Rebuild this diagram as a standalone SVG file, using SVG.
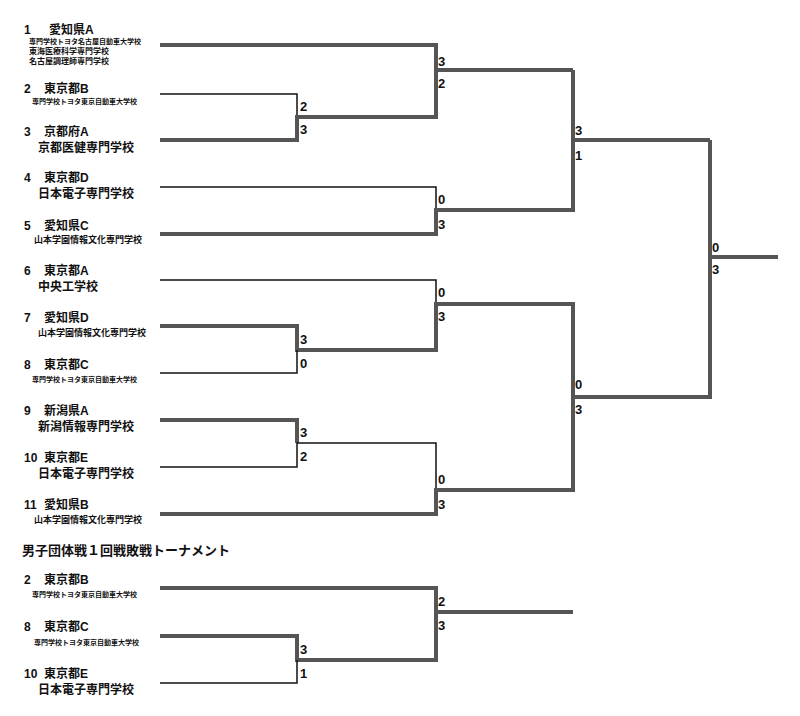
<svg xmlns="http://www.w3.org/2000/svg" width="800" height="716" viewBox="0 0 800 716">
<style>
text{font-family:"Liberation Sans","Noto Sans CJK JP",sans-serif;fill:#111}
.n{font-size:12px;font-weight:bold}
.s{font-size:7px;font-weight:bold}
.m{font-size:12px;font-weight:bold}
.sc{font-size:13px;font-weight:bold}
.k{stroke:#555;stroke-width:4;fill:none}
.t{stroke:#111;stroke-width:1.5;fill:none}
</style>
<rect width="800" height="716" fill="#fff"/>
<g id="connectors">
<path class="k" d="M160 45H436V70H573"/>
<path class="t" d="M160 94H297V117"/>
<path class="k" d="M160 140H297V117H436V70"/>
<path class="t" d="M160 187H436V210"/>
<path class="k" d="M160 234H436V210H573V70V140H710"/>
<path class="t" d="M160 280H436V304"/>
<path class="k" d="M160 326H297V350H436V304H573V397H710V140"/>
<path class="t" d="M160 373H297V350"/>
<path class="k" d="M160 420H297V443"/>
<path class="t" d="M160 467H297V443H436V490"/>
<path class="k" d="M160 514H436V490H573V397"/>
<path class="k" d="M710 257H778"/>
<path class="k" d="M160 588H436V612H573"/>
<path class="k" d="M160 636H297V660H436V612"/>
<path class="t" d="M160 683H297V660"/>
</g>
<g id="scores" class="sc">
<text x="438" y="66" class="sc">3</text><text x="438" y="88" class="sc">2</text>
<text x="300" y="111" class="sc">2</text><text x="300" y="134" class="sc">3</text>
<text x="438" y="204" class="sc">0</text><text x="438" y="229" class="sc">3</text>
<text x="575" y="135" class="sc">3</text><text x="575" y="160" class="sc">1</text>
<text x="438" y="297" class="sc">0</text><text x="438" y="321" class="sc">3</text>
<text x="300" y="344" class="sc">3</text><text x="300" y="368" class="sc">0</text>
<text x="300" y="437" class="sc">3</text><text x="300" y="461" class="sc">2</text>
<text x="438" y="484" class="sc">0</text><text x="438" y="509" class="sc">3</text>
<text x="575" y="389" class="sc">0</text><text x="575" y="414" class="sc">3</text>
<text x="712" y="252" class="sc">0</text><text x="712" y="274" class="sc">3</text>
<text x="438" y="606" class="sc">2</text><text x="438" y="630" class="sc">3</text>
<text x="300" y="654" class="sc">3</text><text x="300" y="678" class="sc">1</text>
</g>
<g id="e1"><text x="24" y="34" class="n">1</text><text x="49" y="34" class="n">愛知県A</text><text x="29" y="44" class="s">専門学校トヨタ名古屋自動車大学校</text><text x="29" y="54" class="s" style="font-size:8px">東海医療科学専門学校</text><text x="29" y="64" class="s" style="font-size:8px">名古屋調理師専門学校</text></g>
<g id="e2"><text x="24" y="93" class="n">2</text><text x="44" y="93" class="n">東京都B</text><text x="32" y="104" class="s">専門学校トヨタ東京自動車大学校</text></g>
<g id="e3"><text x="24" y="136" class="n">3</text><text x="44" y="136" class="n">京都府A</text><text x="38" y="152" class="m">京都医健専門学校</text></g>
<g id="e4"><text x="24" y="182" class="n">4</text><text x="44" y="182" class="n">東京都D</text><text x="38" y="198" class="m">日本電子専門学校</text></g>
<g id="e5"><text x="24" y="230" class="n">5</text><text x="44" y="230" class="n">愛知県C</text><text x="34" y="243" class="s" style="font-size:9px">山本学園情報文化専門学校</text></g>
<g id="e6"><text x="24" y="275" class="n">6</text><text x="44" y="275" class="n">東京都A</text><text x="38" y="291" class="m">中央工学校</text></g>
<g id="e7"><text x="24" y="322" class="n">7</text><text x="44" y="322" class="n">愛知県D</text><text x="38" y="336" class="s" style="font-size:9px">山本学園情報文化専門学校</text></g>
<g id="e8"><text x="24" y="369" class="n">8</text><text x="44" y="369" class="n">東京都C</text><text x="32" y="382" class="s">専門学校トヨタ東京自動車大学校</text></g>
<g id="e9"><text x="24" y="415" class="n">9</text><text x="44" y="415" class="n">新潟県A</text><text x="38" y="431" class="m">新潟情報専門学校</text></g>
<g id="e10"><text x="24" y="462" class="n">10</text><text x="44" y="462" class="n">東京都E</text><text x="38" y="478" class="m">日本電子専門学校</text></g>
<g id="e11"><text x="24" y="509" class="n">11</text><text x="44" y="509" class="n">愛知県B</text><text x="34" y="523" class="s" style="font-size:9px">山本学園情報文化専門学校</text></g>
<text x="22" y="555" class="n" style="font-size:13px">男子団体戦１回戦敗戦トーナメント</text>
<g id="b2"><text x="24" y="584" class="n">2</text><text x="44" y="584" class="n">東京都B</text><text x="32" y="597" class="s">専門学校トヨタ東京自動車大学校</text></g>
<g id="b8"><text x="24" y="631" class="n">8</text><text x="44" y="631" class="n">東京都C</text><text x="34" y="645" class="s">専門学校トヨタ東京自動車大学校</text></g>
<g id="b10"><text x="24" y="678" class="n">10</text><text x="44" y="678" class="n">東京都E</text><text x="38" y="694" class="m">日本電子専門学校</text></g>
</svg>
